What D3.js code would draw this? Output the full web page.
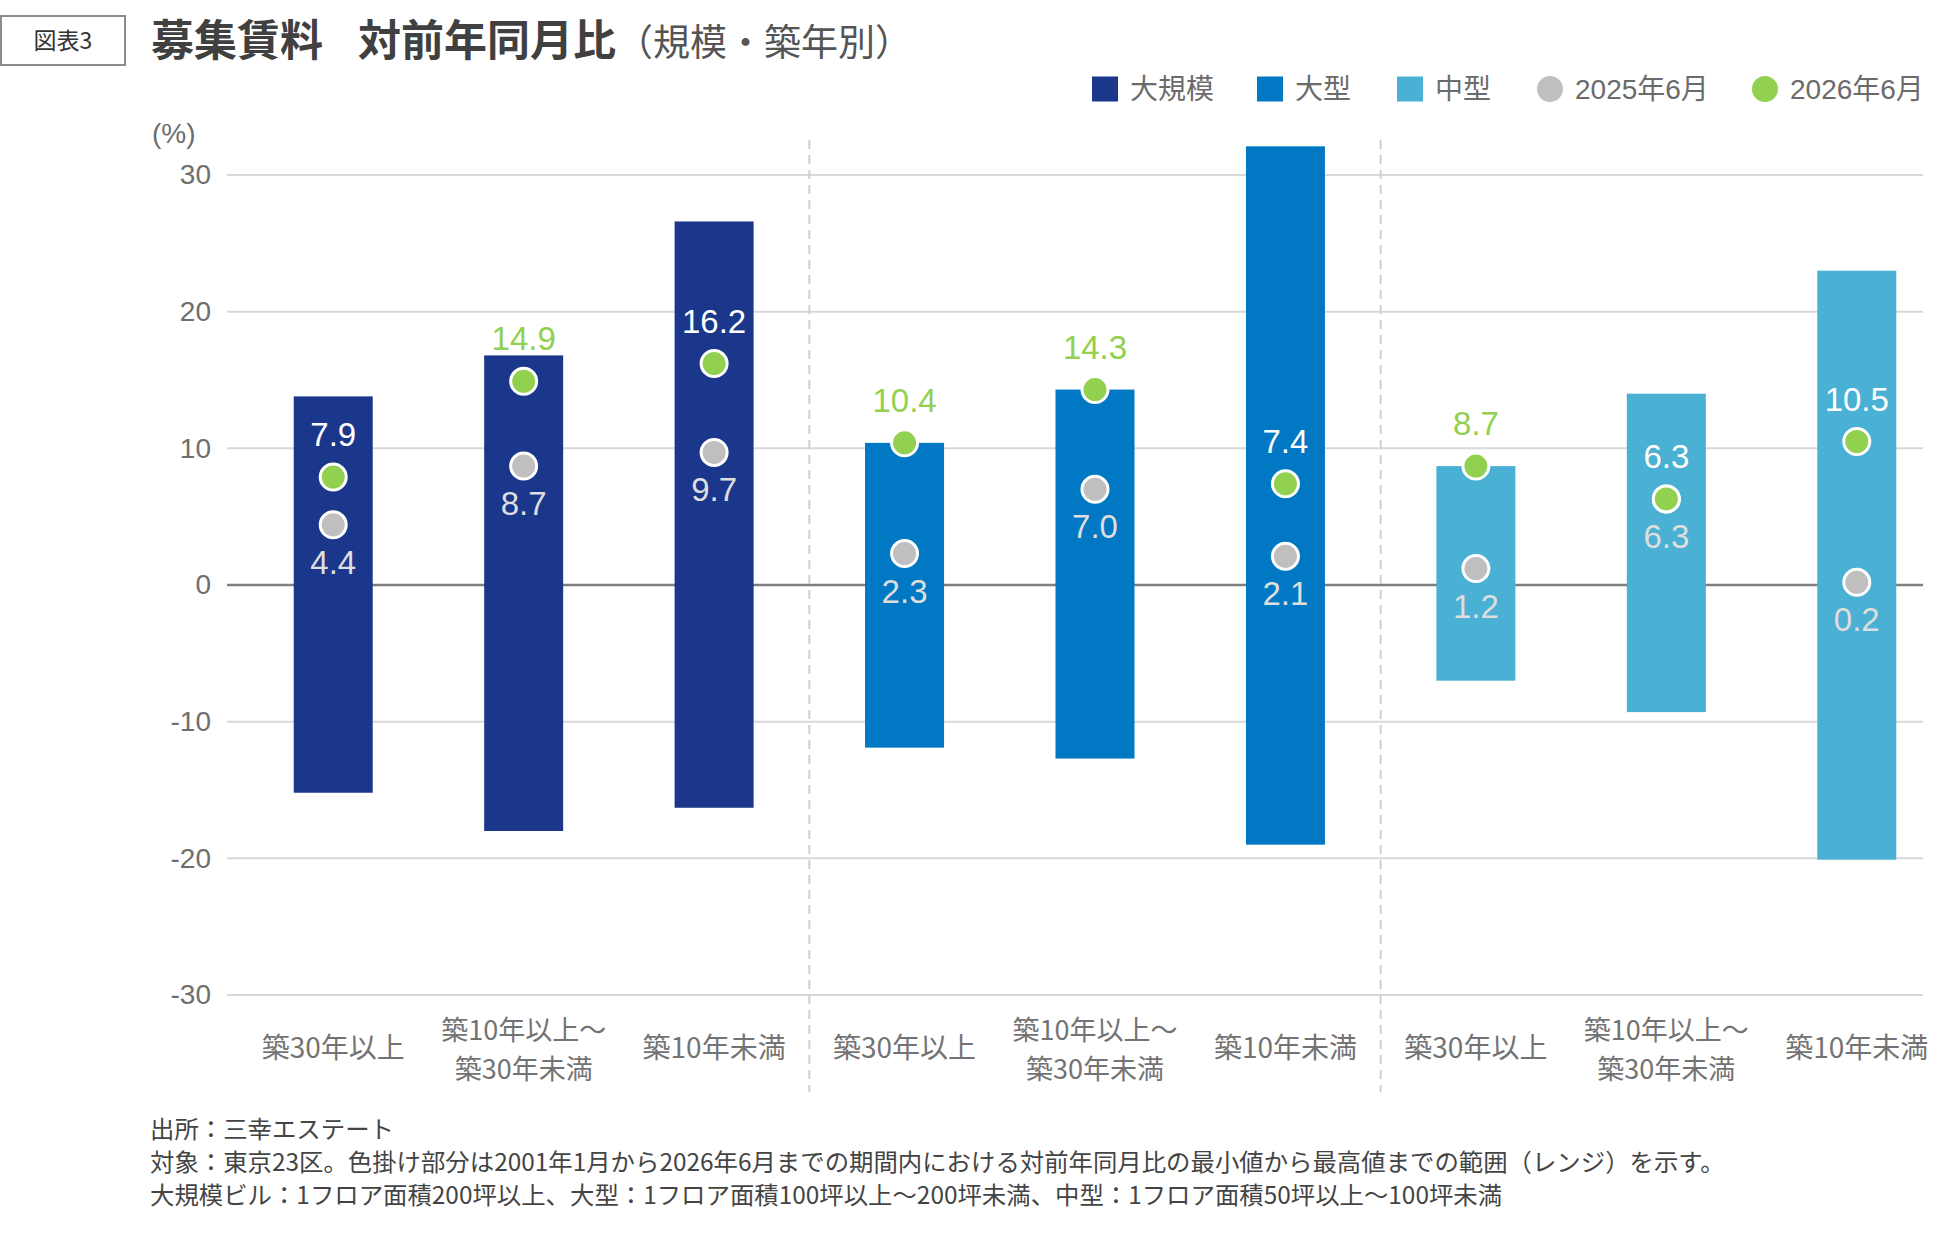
<!DOCTYPE html>
<html>
<head>
<meta charset="utf-8">
<script src="https://cdn.jsdelivr.net/npm/d3@7/dist/d3.min.js"></script>
<style>
  html, body { margin: 0; padding: 0; background: #ffffff; }
  svg { display: block; }
</style>
</head>
<body>
<svg id="chart" width="1950" height="1243"></svg>
<script>
// ---------------- data ----------------
const sizeGroups = ["大規模", "大型", "中型"];
const ageGroups = ["築30年以上", "築10年以上～\n築30年未満", "築10年未満"];
// range (min / max of YoY change, 2001/1–2026/6), order: 大規模×3, 大型×3, 中型×3
const rangeMin = [-15.2, -18.0, -16.3, -11.9, -12.7, -19.0, -7.0, -9.3, -20.1];
const rangeMax = [13.8, 16.8, 26.6, 10.4, 14.3, 32.1, 8.7, 14.0, 23.0];
const val2025 = [4.4, 8.7, 9.7, 2.3, 7.0, 2.1, 1.2, 6.3, 0.2];
const val2026 = [7.9, 14.9, 16.2, 10.4, 14.3, 7.4, 8.7, 6.3, 10.5];
const yTicks = [30, 20, 10, 0, -10, -20, -30];
const legendSeries = ["大規模", "大型", "中型", "2025年6月", "2026年6月"];
const footnotes = [
  "出所：三幸エステート",
  "対象：東京23区。色掛け部分は2001年1月から2026年6月までの期間内における対前年同月比の最小値から最高値までの範囲（レンジ）を示す。",
  "大規模ビル：1フロア面積200坪以上、大型：1フロア面積100坪以上～200坪未満、中型：1フロア面積50坪以上～100坪未満"
];

// ---------------- styles ----------------
const sizeColor = d3.scaleOrdinal().domain(sizeGroups).range(["#1a378c", "#0078c3", "#4ab0d4"]);
const gray = "#bfbfbf", green = "#92d050";
const cjk = "'Noto Sans CJK JP', 'Noto Sans', sans-serif";
const latin = "'Liberation Sans', Arial, 'Noto Sans CJK JP', sans-serif";

const cats = [];
sizeGroups.forEach(s => ageGroups.forEach(a => cats.push({ size: s, age: a })));
const rows = cats.map((c, i) => ({
  id: i, size: c.size, age: c.age,
  min: rangeMin[i], max: rangeMax[i], v25: val2025[i], v26: val2026[i]
}));

const svg = d3.select("#chart");

// ---------------- scales ----------------
const x = d3.scaleBand().domain(rows.map(r => r.id)).range([238, 1952]).padding(0);
const y = d3.scaleLinear().domain([-30, 30]).range([995, 175]);
const barW = 79;
const cx = id => x(id) + x.bandwidth() / 2;
const gridX0 = 227, gridX1 = 1923;

// ---------------- title ----------------
svg.append("rect").attr("x", 1).attr("y", 16).attr("width", 124).attr("height", 49)
  .attr("fill", "#fff").attr("stroke", "#8c8c8c").attr("stroke-width", 2);
svg.append("text").attr("x", 63).attr("y", 49).attr("text-anchor", "middle")
  .attr("font-family", cjk).attr("font-size", 23).attr("fill", "#333").text("図表3");

const title = svg.append("text").attr("x", 151).attr("y", 56)
  .attr("font-family", cjk).attr("fill", "#404040");
title.append("tspan").attr("font-size", 43).attr("font-weight", 700).text("募集賃料");
title.append("tspan").attr("dx", 35).attr("font-size", 43).attr("font-weight", 700).text("対前年同月比");
title.append("tspan").attr("font-size", 37).attr("font-weight", 400).attr("fill", "#555").text("（規模・築年別）");

// ---------------- legend ----------------
const legendX = [1092, 1257, 1397, 1537, 1752];
const lg = svg.append("g").attr("font-family", latin).attr("font-size", 28).attr("fill", "#6b6b6b");
legendSeries.forEach((name, i) => {
  const g = lg.append("g").attr("transform", `translate(${legendX[i]},89)`);
  if (i < 3) {
    g.append("rect").attr("x", 0).attr("y", -12.5).attr("width", 26).attr("height", 25).attr("fill", sizeColor(name));
  } else {
    g.append("circle").attr("cx", 13).attr("cy", 0).attr("r", 13).attr("fill", i === 3 ? gray : green);
  }
  g.append("text").attr("x", 38).attr("y", 0).attr("dy", "0.36em").text(name);
});

// ---------------- grid & axis ----------------
const grid = svg.append("g");
grid.selectAll("line").data(yTicks).join("line")
  .attr("x1", gridX0).attr("x2", gridX1)
  .attr("y1", d => y(d)).attr("y2", d => y(d))
  .attr("stroke", d => d === 0 ? "#7f7f7f" : "#d9d9d9")
  .attr("stroke-width", d => d === 0 ? 2.5 : 2);

const yAxis = svg.append("g").attr("transform", `translate(${gridX0},0)`)
  .call(d3.axisLeft(y).tickValues(yTicks).tickSize(0).tickPadding(16).tickFormat(d => String(d)));
yAxis.select(".domain").remove();
yAxis.selectAll("text").attr("font-family", latin).attr("font-size", 28).attr("fill", "#6e6e6e");

svg.append("text").attr("x", 152).attr("y", 133).attr("dy", "0.35em")
  .attr("font-family", latin).attr("font-size", 28).attr("fill", "#6e6e6e").text("(%)");

// group dividers
[3, 6].forEach(i => {
  svg.append("line").attr("x1", x(i)).attr("x2", x(i)).attr("y1", 140).attr("y2", 1092)
    .attr("stroke", "#d0d0d0").attr("stroke-width", 2).attr("stroke-dasharray", "9,6");
});

// ---------------- bars ----------------
svg.append("g").selectAll("rect").data(rows).join("rect")
  .attr("x", d => cx(d.id) - barW / 2).attr("width", barW)
  .attr("y", d => y(d.max)).attr("height", d => y(d.min) - y(d.max))
  .attr("fill", d => sizeColor(d.size));

// ---------------- points ----------------
const pts = svg.append("g");
pts.selectAll("circle.p25").data(rows).join("circle").attr("class", "p25")
  .attr("cx", d => cx(d.id)).attr("cy", d => y(d.v25)).attr("r", 13)
  .attr("fill", gray).attr("stroke", "#fff").attr("stroke-width", 3);
pts.selectAll("circle.p26").data(rows).join("circle").attr("class", "p26")
  .attr("cx", d => cx(d.id)).attr("cy", d => y(d.v26)).attr("r", 13)
  .attr("fill", green).attr("stroke", "#fff").attr("stroke-width", 3);

// ---------------- value labels ----------------
const fmt = d3.format(".1f");
const above = 31, below = 49;
const lbl = svg.append("g").attr("font-family", latin).attr("font-size", 33).attr("text-anchor", "middle");
lbl.selectAll("text.l25").data(rows).join("text").attr("class", "l25")
  .attr("x", d => cx(d.id)).attr("y", d => y(d.v25) + below)
  .attr("fill", "#dedede").text(d => fmt(d.v25));
lbl.selectAll("text.l26").data(rows).join("text").attr("class", "l26")
  .attr("x", d => cx(d.id)).attr("y", d => y(d.v26) - above)
  .attr("fill", d => (y(d.v26) - above) < y(d.max) ? green : "#ffffff")
  .text(d => fmt(d.v26));

// ---------------- category labels ----------------
const cl = svg.append("g").attr("font-family", cjk).attr("font-size", 27).attr("fill", "#737373").attr("text-anchor", "middle");
rows.forEach(d => {
  const lines = d.age.split("\n");
  const t = cl.append("text").attr("x", cx(d.id));
  if (lines.length === 1) {
    t.attr("y", 1058).attr("font-size", 28).text(lines[0]);
  } else {
    t.append("tspan").attr("x", cx(d.id)).attr("y", 1040).text(lines[0]);
    t.append("tspan").attr("x", cx(d.id)).attr("y", 1079).text(lines[1]);
  }
});

// ---------------- footnotes ----------------
svg.append("g").attr("font-family", cjk).attr("font-size", 24.4).attr("fill", "#444")
  .selectAll("text").data(footnotes).join("text")
  .attr("x", 150).attr("y", (d, i) => 1138 + i * 33).text(d => d);
</script>
</body>
</html>
